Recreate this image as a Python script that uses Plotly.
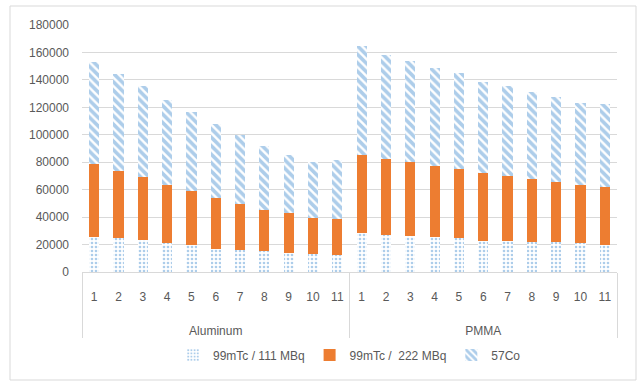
import plotly.graph_objects as go

groups = ["Aluminum", "PMMA"]
positions = [str(i) for i in range(1, 12)]

# stacked values
tc111_al = [25600, 24600, 23000, 20800, 19800, 16900, 16200, 15200, 14000, 13000, 12100]
tc222_al = [53200, 49300, 46300, 42700, 38900, 37200, 33100, 30200, 28800, 26600, 26600]
co57_al = [74600, 70100, 66200, 61600, 57800, 53900, 50200, 46400, 42500, 40800, 42700]

tc111_pm = [28100, 27100, 26200, 25200, 24500, 22500, 22500, 21600, 21600, 20800, 19600]
tc222_pm = [57000, 55300, 54300, 52400, 50400, 49500, 47800, 46500, 43800, 42700, 42000]
co57_pm = [79500, 76100, 73200, 71200, 70300, 66400, 65400, 62800, 61900, 59900, 60800]

y_ticks = [0, 20000, 40000, 60000, 80000, 100000, 120000, 140000, 160000, 180000]

group_labels = ["<br><br>" + g for g in groups]
xcat = [[g for g in group_labels for _ in positions], positions * len(groups)]

blue = "#5B9BD5"
orange = "#ED7D31"
font = "Liberation Sans"

fig = go.Figure()
fig.add_trace(go.Bar(
    x=xcat, y=tc111_al + tc111_pm, name="99mTc / 111 MBq",
    marker=dict(color="white", line=dict(width=0),
                pattern=dict(shape=".", fgcolor=blue, bgcolor="white", size=4, solidity=0.35)),
))
fig.add_trace(go.Bar(
    x=xcat, y=tc222_al + tc222_pm, name="99mTc /  222 MBq",
    marker=dict(color=orange, line=dict(width=0)),
))
fig.add_trace(go.Bar(
    x=xcat, y=co57_al + co57_pm, name="57Co",
    marker=dict(color="white", line=dict(width=0),
                pattern=dict(shape="\\", fgcolor=blue, bgcolor="white", size=6, solidity=0.6)),
))

L, R, T, B = 82, 20, 25, 109
W, H = 637, 381
pw, ph = W - L - R, H - T - B

def px(x):
    return (x - L) / pw

def py(y):
    return (H - B - y) / ph

fig.update_layout(
    width=W, height=H,
    margin=dict(l=L, r=R, t=T, b=B),
    barmode="stack", bargap=0.58,
    plot_bgcolor="white", paper_bgcolor="white",
    font=dict(family=font, size=12, color="#595959"),
    showlegend=True,
    legend=dict(orientation="h", x=0.5, xanchor="center", y=py(355), yanchor="middle",
                font=dict(size=12, color="#595959"), itemwidth=30, traceorder="normal"),
    xaxis=dict(type="multicategory", showgrid=False, showline=True, linecolor="#D9D9D9",
               linewidth=1, dividercolor="#D9D9D9", dividerwidth=1, showdividers=True,
               ticklabelstandoff=14,
               tickfont=dict(size=12, color="#595959")),
    yaxis=dict(range=[0, 180000], tickvals=y_ticks, ticktext=[str(v) for v in y_ticks],
               showgrid=True, gridcolor="#D9D9D9", gridwidth=1, zeroline=False,
               showline=False, ticklabelstandoff=12,
               tickfont=dict(size=12, color="#595959")),
    shapes=[dict(type="rect", xref="paper", yref="paper",
                 x0=px(10), x1=px(636), y0=py(380), y1=py(6),
                 line=dict(color="#D9D9D9", width=1), fillcolor="rgba(0,0,0,0)", layer="below")],
)

fig.write_html("out.html")
